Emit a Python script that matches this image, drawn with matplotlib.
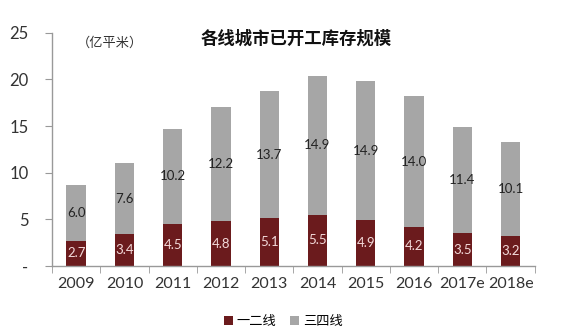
import matplotlib
matplotlib.use("Agg")
import matplotlib.pyplot as plt
import numpy as np

categories = ["2009", "2010", "2011", "2012", "2013", "2014", "2015", "2016", "2017e", "2018e"]
tier12 = [2.7, 3.4, 4.5, 4.8, 5.1, 5.5, 4.9, 4.2, 3.5, 3.2]
tier34 = [6.0, 7.6, 10.2, 12.2, 13.7, 14.9, 14.9, 14.0, 11.4, 10.1]
series_names = ["一二线", "三四线"]
yticks = [0, 5, 10, 15, 20, 25]
ytick_labels = ["-", "5", "10", "15", "20", "25"]
title = "各线城市已开工库存规模"
unit = "（亿平米）"

cjk = ["Noto Sans CJK SC", "DejaVu Sans"]
num_font = ["Lato", "DejaVu Sans"]
dark = "#6b1b1d"
gray = "#a6a6a6"

fig = plt.figure(figsize=(5.78, 3.35), dpi=100)
ax = fig.add_axes([0.09, 0.206, 0.835, 0.696])
x = np.arange(len(categories))
w = 0.40
b1 = ax.bar(x, tier12, w, color=dark, label=series_names[0])
b2 = ax.bar(x, tier34, w, bottom=tier12, color=gray, label=series_names[1])

for i in range(len(categories)):
    ax.text(x[i], tier12[i] / 2, f"{tier12[i]:.1f}", ha="center", va="center",
            color="#f3dada", fontsize=9.5, family=num_font)
    ax.text(x[i], tier12[i] + tier34[i] / 2, f"{tier34[i]:.1f}", ha="center", va="center",
            color="#222222", fontsize=9.5, family=num_font)

ax.set_xlim(-0.5, len(categories) - 0.5)
ax.set_ylim(0, 25)
ax.set_yticks(yticks)
ax.set_yticklabels(ytick_labels, family=num_font, fontsize=12, color="#333333")
ax.set_xticks(x)
ax.set_xticklabels(categories, family=num_font, fontsize=11.5, color="#333333")
ax.tick_params(axis="x", length=0, pad=8)
ax.set_xticks(np.arange(-0.5, len(categories)), minor=True)
ax.tick_params(axis="x", which="minor", length=5, color="#999999")
ax.tick_params(axis="y", length=5, color="#999999", pad=12)
for s in ["top", "right"]:
    ax.spines[s].set_visible(False)
for s in ["left", "bottom"]:
    ax.spines[s].set_color("#999999")
    ax.spines[s].set_linewidth(1.0)

fig.text(0.512, 0.884, title, ha="center", va="center", fontsize=12.5,
         fontweight="bold", family=cjk, color="#111111")
fig.text(0.19, 0.872, unit, ha="center", va="center", fontsize=9.5,
         family=cjk, color="#333333")

fig.legend(handles=[b1, b2], labels=series_names, loc="center",
           bbox_to_anchor=(0.49, 0.04), ncol=2, frameon=False,
           prop={"family": cjk, "size": 9.5}, handlelength=0.7, handleheight=0.7,
           handletextpad=0.3, columnspacing=1.0)

fig.savefig("out.png", dpi=100, facecolor="white")
